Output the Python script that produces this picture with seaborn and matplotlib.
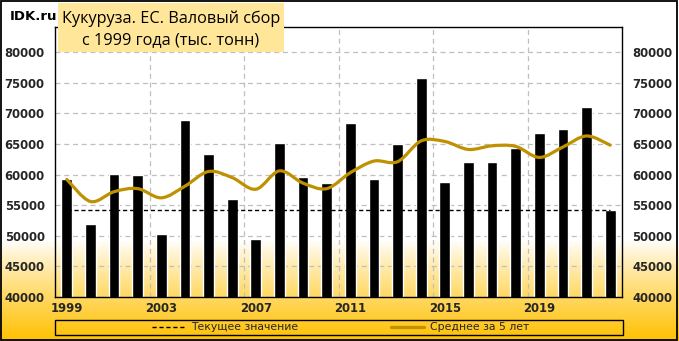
import numpy as np
import pandas as pd
import matplotlib
matplotlib.use("Agg")
import matplotlib.pyplot as plt
from matplotlib.patches import Rectangle, PathPatch
from matplotlib.path import Path
from matplotlib.lines import Line2D
import seaborn as sns

# ---- data ----
years = list(range(1999, 2023))
harvest = [59300, 51900, 60100, 59900, 50300, 68900, 63300, 56000, 49500, 65100,
           59600, 58600, 68400, 59300, 65000, 75800, 58800, 62000, 62000, 64300,
           66800, 67400, 71000, 54200]
avg5 = [59200, 55600, 57200, 57700, 56200, 58100, 60500, 59500, 57600, 60600,
        58600, 57700, 60300, 62200, 62100, 65500, 65400, 64100, 64700, 64600,
        62800, 64500, 66300, 64800]
xtick_years = [1999, 2003, 2007, 2011, 2015, 2019]
yticks = list(range(40000, 80001, 5000))
title_lines = ["Кукуруза. ЕС. Валовый сбор", "с 1999 года (тыс. тонн)"]
legend_labels = ["Текущее значение", "Среднее за 5 лет"]
current = harvest[-1]

W, H = 679, 341
DPI = 100
sns.set_theme(style="white")
plt.rcParams["font.family"] = ["DejaVu Sans"]

fig = plt.figure(figsize=(W / DPI, H / DPI), dpi=DPI)
fig.patch.set_facecolor("white")

def fx(px):
    return px / W

def fy(py):
    return 1 - py / H

# gradient background
bg = fig.add_axes([0, 0, 1, 1], zorder=-10)
bg.set_axis_off()
rows = np.arange(H)
t = np.clip((rows - 240) / (H - 240), 0, 1) ** 0.85
top = np.array([1.0, 1.0, 1.0])
bot = np.array([255, 192, 0]) / 255.0
grad = top[None, :] * (1 - t[:, None]) + bot[None, :] * t[:, None]
img = np.repeat(grad[:, None, :], 2, axis=1)
bg.imshow(img, aspect="auto", extent=[0, 1, 0, 1], origin="upper")
bg.set_xlim(0, 1)
bg.set_ylim(0, 1)

# main axes
L, R, T, B = 55, 622, 27, 297
ax = fig.add_axes([fx(L), fy(B), fx(R - L), (B - T) / H])
ax.set_facecolor("none")

df = pd.DataFrame({"year": [str(y) for y in years], "harvest": harvest})
sns.barplot(data=df, x="year", y="harvest", color="black", width=0.45,
            saturation=1, ax=ax, zorder=2)

xs = np.arange(len(years))
ax.plot(xs, [current] * len(years), color="black", lw=1.0,
        linestyle=(0, (3, 2)), zorder=4)

# smoothed 5-year average (Bezier through the data points)
pts = np.column_stack([xs, avg5]).astype(float)
verts = [tuple(pts[0])]
codes = [Path.MOVETO]
n = len(pts)
for i in range(n - 1):
    p0 = pts[i - 1] if i > 0 else pts[i]
    p1 = pts[i]
    p2 = pts[i + 1]
    p3 = pts[i + 2] if i + 2 < n else pts[i + 1]
    c1 = p1 + (p2 - p0) / 6.0
    c2 = p2 - (p3 - p1) / 6.0
    verts += [tuple(c1), tuple(c2), tuple(p2)]
    codes += [Path.CURVE4] * 3
avg_color = "#BF9000"
ax.add_patch(PathPatch(Path(verts, codes), fill=False, edgecolor=avg_color,
                       lw=2.3, capstyle="round", joinstyle="round", zorder=5))

ax.set_xlim(-0.5, len(years) - 0.5)
ax.set_ylim(40000, 84100)
ax.set_yticks(yticks)
ax.set_yticklabels([str(v) for v in yticks])
tick_pos = [years.index(y) for y in xtick_years]
ax.set_xticks(tick_pos)
ax.set_xticklabels([str(y) for y in xtick_years])
ax.set_xlabel("")
ax.set_ylabel("")

for v in yticks:
    ax.axhline(v, color="#BFBFBF", lw=0.9, linestyle=(0, (4, 3)), zorder=0)
for k in range(4, len(years), 4):
    ax.axvline(k - 0.5, color="#BFBFBF", lw=0.9, linestyle=(0, (4, 3)), zorder=0)

ax.tick_params(axis="y", length=0, pad=7.5, labelsize=8.4, labelright=True,
               labelleft=True)
ax.tick_params(axis="x", length=0, pad=3.5, labelsize=8.4)
for lab in ax.get_yticklabels() + ax.get_xticklabels():
    lab.set_fontweight("bold")
for s in ax.spines.values():
    s.set_visible(True)
    s.set_color("black")
    s.set_linewidth(1.0)

# title box
fig.add_artist(Rectangle((fx(58), fy(52)), fx(284 - 58), (52 - 3) / H,
                         transform=fig.transFigure, facecolor="#FFE699",
                         edgecolor="none", zorder=1))
fig.text(fx(171), fy(18.5), title_lines[0], ha="center", va="center",
         fontsize=11.7, family="Open Sans", color="black", zorder=2)
fig.text(fx(171), fy(40), title_lines[1], ha="center", va="center",
         fontsize=11.7, family="Open Sans", color="black", zorder=2)

fig.text(fx(10), fy(16), "IDK.ru", ha="left", va="center", fontsize=9.5,
         fontweight="bold", color="black")

# legend box
fig.add_artist(Rectangle((fx(55), fy(335)), fx(623 - 55), 15 / H,
                         transform=fig.transFigure, facecolor="none",
                         edgecolor="black", lw=1.0, zorder=3))
handles = [Line2D([], [], color="black", lw=1.0, linestyle=(0, (3, 2))),
           Line2D([], [], color=avg_color, lw=2.3)]
fig.legend(handles, legend_labels, loc="center", bbox_to_anchor=(fx(341), fy(327.5)),
           ncol=2, frameon=False, fontsize=7.8, handlelength=3.0,
           handletextpad=0.6, columnspacing=8.6, borderpad=0, borderaxespad=0)

# outer border
fig.add_artist(Rectangle((0.0015, 0.003), 0.996, 0.994, transform=fig.transFigure,
                         facecolor="none", edgecolor="black", lw=1.3, zorder=10))

fig.savefig("out.png", dpi=DPI)
